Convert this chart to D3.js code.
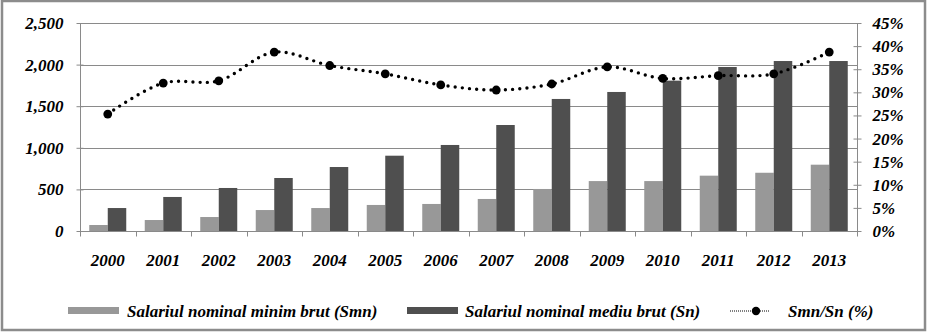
<!DOCTYPE html>
<html><head><meta charset="utf-8">
<script src="https://cdn.jsdelivr.net/npm/d3@7"></script>
</head>
<body style="margin:0;padding:0;background:#fff">
<svg id="c" width="928" height="334"></svg>
<script>
const years = ["2000","2001","2002","2003","2004","2005","2006","2007","2008","2009","2010","2011","2012","2013"];
const smn = [72, 132, 168, 252, 276, 313, 325, 385, 505, 600, 600, 665, 700, 797];
const sn = [276, 409, 517, 637, 769, 905, 1034, 1274, 1587, 1671, 1807, 1971, 2043, 2043];
const ratio = [25.3, 32.0, 32.5, 38.7, 35.8, 34.0, 31.6, 30.5, 31.8, 35.5, 33.0, 33.6, 34.0, 38.7];
const leftTicks = [0, 500, 1000, 1500, 2000, 2500];
const rightTicks = [0, 5, 10, 15, 20, 25, 30, 35, 40, 45];
const seriesNames = ["Salariul nominal minim brut (Smn)", "Salariul nominal mediu brut (Sn)", "Smn/Sn (%)"];

const svg = d3.select("#c");
const L = 80, R = 857, T = 23, B = 231;
const grid = "#8a8a8a";
const cLight = "#989898", cDark = "#4f4f4f";
const FS = 17;

// frame
svg.append("rect").attr("x", 2).attr("y", 1).attr("width", 923).attr("height", 329)
  .attr("fill", "none").attr("stroke", "#8c8c8c").attr("stroke-width", 2.5);

const x = d3.scaleBand().domain(years).range([L, R]).paddingInner(0).paddingOuter(0);
const y = d3.scaleLinear().domain([0, 2500]).range([B, T]);
const y2 = d3.scaleLinear().domain([0, 45]).range([B, T]);

// gridlines
svg.append("g").selectAll("line").data(leftTicks.filter(d => d > 0)).join("line")
  .attr("x1", L).attr("x2", R).attr("y1", d => Math.round(y(d)) + 0.5).attr("y2", d => Math.round(y(d)) + 0.5)
  .attr("stroke", grid).attr("stroke-width", 1);

// bars
const bw = x.bandwidth() / 3;
const g = svg.append("g");
g.selectAll(".b1").data(years).join("rect")
  .attr("x", d => x(d) + bw / 2).attr("width", bw)
  .attr("y", (d, i) => y(smn[i])).attr("height", (d, i) => B - y(smn[i]))
  .attr("fill", cLight);
g.selectAll(".b2").data(years).join("rect")
  .attr("x", d => x(d) + bw * 1.5).attr("width", bw)
  .attr("y", (d, i) => y(sn[i])).attr("height", (d, i) => B - y(sn[i]))
  .attr("fill", cDark);

// left axis
const la = svg.append("g").attr("transform", `translate(${L + 0.5},0)`)
  .call(d3.axisLeft(y).tickValues(leftTicks).tickFormat(d3.format(",")).tickSize(4).tickPadding(13));
la.select(".domain").attr("stroke", grid).attr("d", `M0,${T}V${B}`);
la.selectAll(".tick line").attr("stroke", grid).attr("x2", -4).attr("x1", 3);

// right axis
const ra = svg.append("g").attr("transform", `translate(${R + 0.5},0)`)
  .call(d3.axisRight(y2).tickValues(rightTicks).tickFormat(d => d + "%").tickSize(4).tickPadding(11));
ra.select(".domain").attr("stroke", grid).attr("d", `M0,${T}V${B}`);
ra.selectAll(".tick line").attr("stroke", grid).attr("x1", -4).attr("x2", 4);

// bottom axis
const ba = svg.append("g").attr("transform", `translate(0,${B + 0.5})`)
  .call(d3.axisBottom(x).tickSize(0).tickPadding(22));
ba.select(".domain").attr("stroke", grid).attr("d", `M${L},0H${R}`);
ba.append("g").selectAll("line").data(d3.range(years.length + 1)).join("line")
  .attr("x1", i => Math.round(L + i * x.step()) + 0.5).attr("x2", i => Math.round(L + i * x.step()) + 0.5)
  .attr("y1", 0).attr("y2", 5).attr("stroke", grid);

// ratio line
const line = d3.line().x((d, i) => x(years[i]) + x.bandwidth() / 2).y(d => y2(d)).curve(d3.curveCatmullRom.alpha(0.5));
svg.append("path").datum(ratio).attr("d", line).attr("fill", "none")
  .attr("stroke", "#000").attr("stroke-width", 3.4).attr("stroke-linecap", "round").attr("stroke-dasharray", "0 7.2");
svg.append("g").selectAll("circle").data(ratio).join("circle")
  .attr("cx", (d, i) => x(years[i]) + x.bandwidth() / 2).attr("cy", d => y2(d)).attr("r", 4.4).attr("fill", "#000");

// legend
const lg = svg.append("g");
lg.append("rect").attr("x", 68).attr("y", 307).attr("width", 51).attr("height", 7).attr("fill", cLight);
lg.append("text").attr("x", 127).attr("y", 317).text(seriesNames[0]);
lg.append("rect").attr("x", 407).attr("y", 307).attr("width", 51).attr("height", 7).attr("fill", cDark);
lg.append("text").attr("x", 465).attr("y", 317).text(seriesNames[1]);
lg.append("line").attr("x1", 730).attr("x2", 770).attr("y1", 311).attr("y2", 311)
  .attr("stroke", "#000").attr("stroke-width", 1).attr("stroke-dasharray", "1 1");
lg.append("circle").attr("cx", 756).attr("cy", 311).attr("r", 4.2).attr("fill", "#000");
lg.append("text").attr("x", 788).attr("y", 317).text(seriesNames[2]);

// fonts
svg.selectAll("g").attr("font-family", null);
svg.selectAll("text")
  .attr("font-family", "Liberation Serif")
  .attr("font-weight", "bold")
  .attr("font-style", "italic")
  .attr("font-size", FS)
  .attr("fill", "#000");
</script>
</body></html>
